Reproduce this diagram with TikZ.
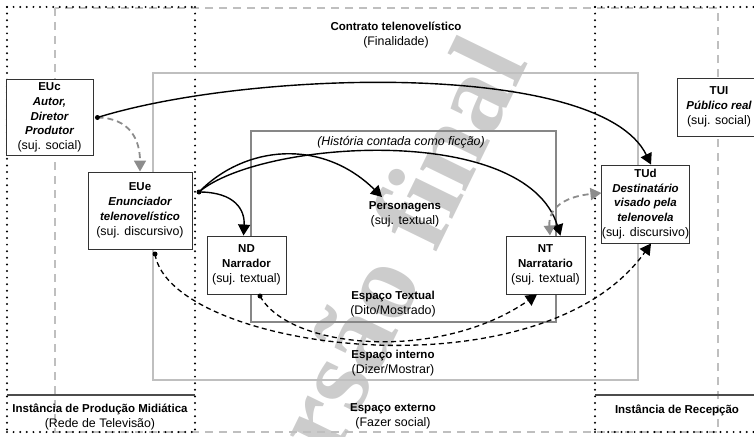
\documentclass[tikz,border=0pt]{standalone}
\usepackage{fontspec}
\setmainfont{Liberation Sans}
\newfontfamily\wmfont{Liberation Serif}
\usetikzlibrary{arrows.meta}
\newcommand{\mybf}[1]{{\fontsize{11.5}{15}\selectfont\bfseries #1}}
\begin{document}
\begin{tikzpicture}[x=1pt,y=-1pt,
  box/.style={draw=black!80,line width=0.9pt,fill=white,inner sep=0pt,align=center,font=\fontsize{12.4}{14.8}\selectfont},
  lbl/.style={align=center,inner sep=0pt,font=\fontsize{12.4}{15}\selectfont},
  dotline/.style={line width=2.2pt,line cap=round,dash pattern=on 0pt off 6.6pt},
  gdash/.style={draw=black!25,line width=2pt,dash pattern=on 8pt off 6pt},
  conn/.style={line width=1.4pt,black},
  dconn/.style={line width=1.3pt,black,dash pattern=on 5pt off 3.5pt},
  gconn/.style={line width=1.8pt,black!45,dash pattern=on 6pt off 4pt},
  arr/.style={-{Triangle[length=11pt,width=12pt]}},
  dotm/.style={circle,fill=black,inner sep=0pt,minimum size=5pt}
]
\useasboundingbox (0,0) rectangle (754,436);
\clip (0,0) rectangle (754,436);
% watermark
\node[rotate=64,text=black!20,inner sep=0pt,font=\wmfont\bfseries\fontsize{110}{110}\selectfont] (wm) at (372,298) {Versão final};
% frames
\draw[gdash] (55,8) rectangle (718,432);
\draw[dotline] (7,7) -- (195,7);
\draw[dotline] (7,7) -- (7,432);
\draw[dotline] (7,432) -- (195,432);
\draw[dotline] (195,7) -- (195,432);
\draw[dotline] (595,7) -- (754,7);
\draw[dotline] (595,7) -- (595,432);
\draw[dotline] (595,432) -- (754,432);
\draw[black!70,line width=1.3pt] (7,395) -- (195,395);
\draw[black!70,line width=1.3pt] (595,395) -- (754,395);
\draw[black!25,line width=1.6pt] (153,73) rectangle (638,380);
\draw[black!47,line width=2.8pt] (251,131) rectangle (556,322);
% labels
\node[lbl] (contrato) at (396,35) {\mybf{Contrato telenovelístico}\\(Finalidade)};
\node[lbl] (historia) at (401,142) {\textit{(História contada como ficção)}};
\node[lbl] (pers) at (405,214) {\mybf{Personagens}\\(suj. textual)};
\node[lbl] (textual) at (393,304) {\mybf{Espaço Textual}\\(Dito/Mostrado)};
\node[lbl] (interno) at (393,363) {\mybf{Espaço interno}\\(Dizer/Mostrar)};
\node[lbl] (externo) at (393,416) {\mybf{Espaço externo}\\(Fazer social)};
\node[lbl] (prod) at (100,417) {\mybf{Instância de Produção Midiática}\\(Rede de Televisão)};
\node[lbl] (recep) at (677,410) {\mybf{Instância de Recepção}};
% boxes
\node[box,minimum width=87pt,minimum height=76pt] (EUc) at (49.5,117.5) {\mybf{EUc}\\\mybf{\itshape Autor,}\\\mybf{\itshape Diretor}\\\mybf{\itshape Produtor}\\(suj. social)};
\node[box,minimum width=104pt,minimum height=77pt] (EUe) at (140,210.5) {\mybf{EUe}\\\mybf{\itshape Enunciador}\\\mybf{\itshape telenovelístico}\\(suj. discursivo)};
\node[box,minimum width=79pt,minimum height=58pt] (ND) at (246.5,265) {\mybf{ND}\\\mybf{Narrador}\\(suj. textual)};
\node[box,minimum width=79pt,minimum height=58pt] (NT) at (545.5,265) {\mybf{NT}\\\mybf{Narratario}\\(suj. textual)};
\node[box,minimum width=87pt,minimum height=78pt] (TUd) at (645.5,204) {\mybf{TUd}\\\mybf{\itshape Destinatário}\\\mybf{\itshape visado pela}\\\mybf{\itshape telenovela}\\(suj. discursivo)};
\node[box,minimum width=84pt,minimum height=58pt] (TUI) at (719,107) {\mybf{TUI}\\\mybf{\itshape Público real}\\(suj. social)};
% connector ends
\coordinate (eucdot) at ([xshift=4pt]EUc.east);
\coordinate (euedot) at (199,192);
\coordinate (euedot2) at (155,254);
\coordinate (nddot) at (260,296);
\coordinate (perstip) at (382,197);
% connectors
\draw[gconn,arr] (eucdot) .. controls (130,118) and (140,140) .. (EUe.north);
\draw[conn,arr] (eucdot) .. controls (250,70) and (600,60) .. ([xshift=5.5pt]TUd.north);
\draw[conn,arr] (euedot) .. controls (245,145) and (322,138) .. (perstip);
\draw[conn,arr] (euedot) .. controls (260,140) and (525,122) .. ([xshift=15pt]NT.north);
\draw[conn,arr] (euedot) .. controls (235,192) and (245,210) .. ([xshift=-3pt]ND.north);
\draw[gconn,{Triangle[length=10pt,width=11pt]}-{Triangle[length=11pt,width=12pt]}] ([xshift=4.5pt]NT.north) .. controls (548,205) and (570,196) .. ([yshift=11pt]TUd.west);
\draw[dconn,arr] (nddot) .. controls (290,350) and (440,362) .. ([xshift=-8.5pt]NT.south);
\draw[dconn,arr] (euedot2) .. controls (170,350) and (540,400) .. ([xshift=5.5pt]TUd.south);
% dots
\node[dotm] (m1) at (eucdot) {};
\node[dotm] (m2) at (euedot) {};
\node[dotm] (m3) at (euedot2) {};
\node[dotm] (m4) at (nddot) {};
\end{tikzpicture}
\end{document}
